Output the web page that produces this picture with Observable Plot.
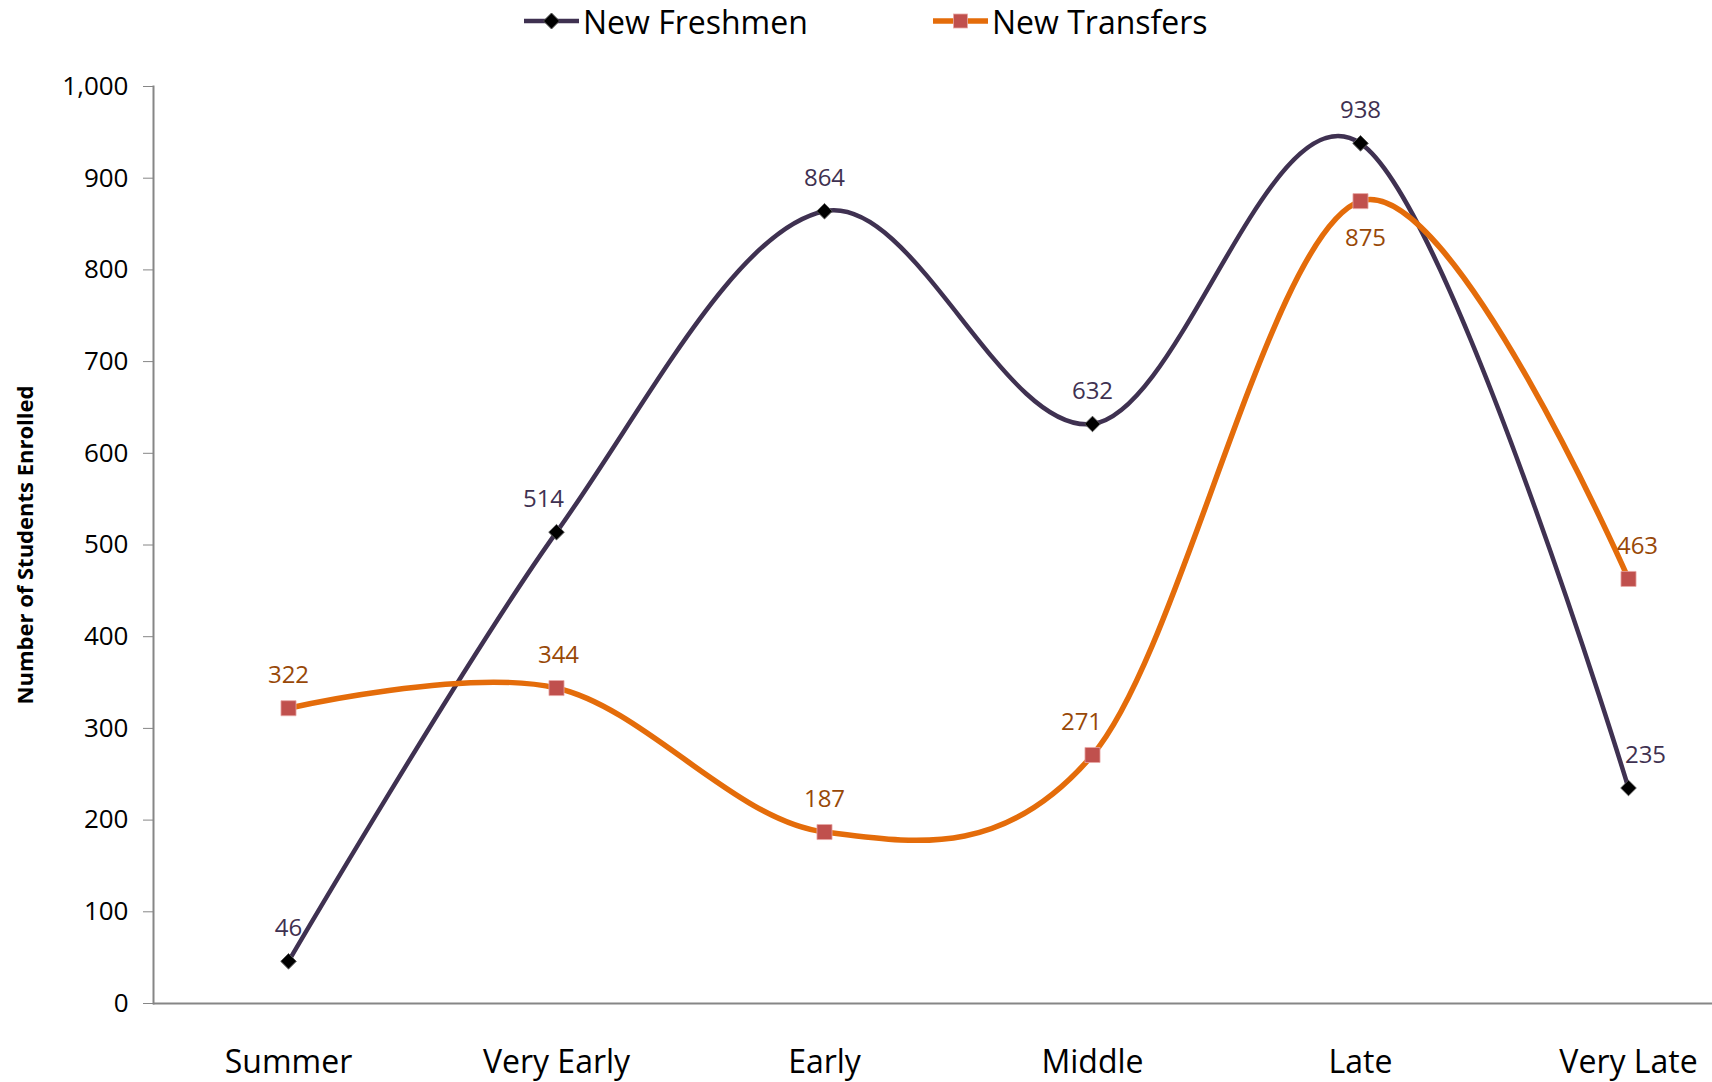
<!DOCTYPE html>
<html><head><meta charset="utf-8">
<script src="https://cdn.jsdelivr.net/npm/d3@7"></script>
<script src="https://cdn.jsdelivr.net/npm/@observablehq/plot@0.6"></script>
<style>
body{margin:0;background:#fff;font-family:"Open Sans",sans-serif;}
#legend{position:relative;height:42px;width:1712px;}
.item{position:absolute;top:0;height:42px;display:flex;align-items:center;font-size:32px;color:#000;white-space:nowrap;}
.item svg{margin-right:4px;}
</style></head><body>
<div id="legend"></div>
<div id="chart"></div>
<script>
// ---- data ----
const categories = ["Summer", "Very Early", "Early", "Middle", "Late", "Very Late"];
const freshmen = [46, 514, 864, 632, 938, 235];
const transfers = [322, 344, 187, 271, 875, 463];
const seriesNames = ["New Freshmen", "New Transfers"];
const yTicks = [0, 100, 200, 300, 400, 500, 600, 700, 800, 900, 1000];
const yTitle = "Number of Students Enrolled";

// ---- styling / layout ----
const lineColor = {"New Freshmen": "#3f3151", "New Transfers": "#e46c0a"};
const labelColor = {"New Freshmen": "#3f3151", "New Transfers": "#984807"};
const lineWidth = {"New Freshmen": 4.5, "New Transfers": 5.5};
const labelDx = {"New Freshmen": [0, -13, 0, 0, 0, 17], "New Transfers": [0, 2, 0, -11, 5, 9]};
const labelBelow = {"New Freshmen": [], "New Transfers": ["Late"]};

const rows = [];
[freshmen, transfers].forEach((vals, s) => {
  vals.forEach((v, i) => rows.push({series: seriesNames[s], category: categories[i], value: v, idx: i}));
});
const fr = rows.filter(d => d.series === seriesNames[0]);
const tr = rows.filter(d => d.series === seriesNames[1]);

function labelMarks(data, name) {
  const above = data.filter(d => !labelBelow[name].includes(d.category));
  const below = data.filter(d => labelBelow[name].includes(d.category));
  const mk = (arr, dy) => arr.map(d => Plot.text([d], {x: "category", y: "value", text: d => String(d.value),
      dy, dx: labelDx[name][d.idx], fill: labelColor[name], fontSize: 24}));
  return [...mk(above, -33), ...mk(below, 37)];
}

const chart = Plot.plot({
  width: 1712,
  height: 1040,
  marginLeft: 153,
  marginRight: 0,
  marginTop: 44,
  marginBottom: 79,
  style: {fontFamily: "'Open Sans', sans-serif", background: "#fff", overflow: "visible"},
  x: {type: "point", domain: categories, range: [287, 1629], padding: 0, label: null},
  y: {domain: [0, 1000], label: null},
  marks: [
    Plot.frame({anchor: "left", stroke: "#868686", strokeWidth: 2}),
    Plot.ruleY([0], {stroke: "#868686", strokeWidth: 2}),
    Plot.axisY({ticks: yTicks, tickFormat: d3.format(","), tickSize: 10, tickPadding: 15,
      fontSize: 26, stroke: "#868686", fill: "#000", label: null}),
    Plot.axisX({tickSize: 0, tickPadding: 47, fontSize: 32, fill: "#000", label: null}),
    Plot.text([yTitle], {frameAnchor: "left", textAnchor: "middle", rotate: -90, dx: -128, fontWeight: "bold", fontSize: 22, fill: "#000"}),
    Plot.line(fr, {x: "category", y: "value", stroke: lineColor[seriesNames[0]], strokeWidth: lineWidth[seriesNames[0]], curve: "cardinal", tension: 0}),
    Plot.line(tr, {x: "category", y: "value", stroke: lineColor[seriesNames[1]], strokeWidth: lineWidth[seriesNames[1]], curve: "cardinal", tension: 0}),
    Plot.dot(fr, {x: "category", y: "value", symbol: "diamond2", r: 7, fill: "#000", stroke: "#555", strokeWidth: 1}),
    Plot.dot(tr, {x: "category", y: "value", symbol: "square", r: 8.5, fill: "#c0504d", stroke: "#e8a8a6", strokeWidth: 0.8}),
    ...labelMarks(fr, seriesNames[0]),
    ...labelMarks(tr, seriesNames[1])
  ]
});
document.getElementById("chart").appendChild(chart);

// ---- legend ----
const legend = document.getElementById("legend");
const legendLeft = [524, 933];
seriesNames.forEach((name, i) => {
  const item = document.createElement("div");
  item.className = "item";
  item.style.left = legendLeft[i] + "px";
  const marker = i === 0
    ? `<polygon points="27.5,13 35.5,21 27.5,29 19.5,21" fill="#000" stroke="#555" stroke-width="1"/>`
    : `<rect x="20.5" y="14" width="14" height="14" fill="#c0504d" stroke="#e8a8a6" stroke-width="0.8"/>`;
  item.innerHTML = `<svg width="55" height="42"><line x1="0" x2="55" y1="21" y2="21" stroke="${lineColor[name]}" stroke-width="${lineWidth[name]}"/>${marker}</svg><span>${name}</span>`;
  legend.appendChild(item);
});
</script>
</body></html>
